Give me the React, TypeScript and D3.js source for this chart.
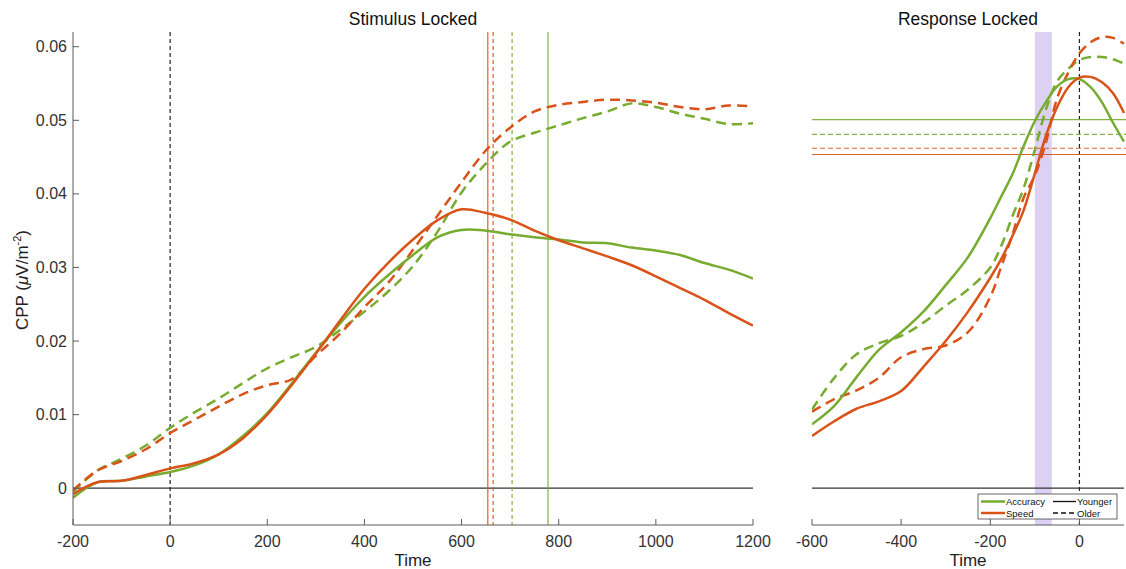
import React from "react";
import * as d3 from "d3";

// ---------- DATA ----------
const stimTime = [-200,-150,-100,-50,0,50,100,150,200,250,300,350,400,450,500,550,600,650,700,750,800,850,900,950,1000,1050,1100,1150,1200];
const stimYoungAcc = [-0.0013,0.0008,0.0010,0.0016,0.0022,0.0031,0.0046,0.0071,0.0102,0.0142,0.0184,0.0224,0.0260,0.0290,0.0317,0.0341,0.0351,0.0350,0.0345,0.0341,0.0338,0.0334,0.0333,0.0327,0.0323,0.0317,0.0306,0.0297,0.0285];
const stimYoungSpd = [-0.0008,0.0008,0.0010,0.0018,0.0027,0.0034,0.0046,0.0068,0.0100,0.0140,0.0183,0.0228,0.0271,0.0307,0.0338,0.0364,0.0379,0.0374,0.0365,0.0350,0.0337,0.0326,0.0315,0.0303,0.0288,0.0272,0.0256,0.0238,0.0221];
const stimOldAcc = [-0.0005,0.0024,0.0040,0.0058,0.0082,0.0103,0.0122,0.0143,0.0163,0.0178,0.0192,0.0215,0.0240,0.0268,0.0302,0.0348,0.0402,0.0441,0.0471,0.0483,0.0493,0.0503,0.0512,0.0523,0.0518,0.0509,0.0502,0.0495,0.0496];
const stimOldSpd = [-0.0003,0.0024,0.0037,0.0053,0.0075,0.0093,0.0111,0.0128,0.0140,0.0148,0.0180,0.0210,0.0246,0.0280,0.0324,0.0370,0.0416,0.0459,0.0490,0.0512,0.0521,0.0525,0.0528,0.0527,0.0524,0.0518,0.0515,0.0520,0.0519];

const respTime = [-600,-550,-500,-450,-400,-350,-300,-250,-200,-175,-150,-125,-100,-75,-50,-25,0,25,50,75,100];
const respYoungAcc = [0.0087,0.0112,0.0151,0.0188,0.0212,0.0240,0.0276,0.0314,0.0367,0.0397,0.0427,0.0465,0.0499,0.0525,0.0546,0.0556,0.0556,0.0545,0.0525,0.0497,0.0471];
const respYoungSpd = [0.0071,0.0091,0.0108,0.0118,0.0132,0.0165,0.0200,0.0240,0.0286,0.0312,0.0343,0.0378,0.0428,0.0479,0.0518,0.0545,0.0558,0.0559,0.0552,0.0537,0.0510];
const respOldAcc = [0.0107,0.0150,0.0182,0.0197,0.0207,0.0225,0.0248,0.0270,0.0300,0.0330,0.0370,0.0408,0.0460,0.0515,0.0553,0.0570,0.0582,0.0586,0.0586,0.0583,0.0577];
const respOldSpd = [0.0104,0.0121,0.0133,0.0150,0.0178,0.0189,0.0194,0.0212,0.0260,0.0302,0.0345,0.0395,0.0425,0.0470,0.0530,0.0565,0.0591,0.0606,0.0613,0.0612,0.0604];

// RT markers (stimulus locked, vertical) and thresholds (response locked, horizontal)
const rtMarkers = [
  { key: "YS", value: 654 },
  { key: "OS", value: 665 },
  { key: "OA", value: 704 },
  { key: "YA", value: 778 },
];
const thresholds = [
  { key: "YA", value: 0.0501 },
  { key: "OA", value: 0.0481 },
  { key: "OS", value: 0.0462 },
  { key: "YS", value: 0.04535 },
];
const shadeWindow = [-100, -62];

const stimTicks = [-200, 0, 200, 400, 600, 800, 1000, 1200];
const respTicks = [-600, -400, -200, 0];
const yTicks = [0, 0.01, 0.02, 0.03, 0.04, 0.05, 0.06];
const yTickLabels = ["0", "0.01", "0.02", "0.03", "0.04", "0.05", "0.06"];

// ---------- STYLE ----------
const GREEN = "#77AC30";
const ORANGE = "#D95319";
const seriesStyle: Record<string, { color: string; dashed: boolean }> = {
  YA: { color: GREEN, dashed: false },
  YS: { color: ORANGE, dashed: false },
  OA: { color: GREEN, dashed: true },
  OS: { color: ORANGE, dashed: true },
};
const FONT = "'Liberation Sans', Arial, Helvetica, sans-serif";
const AXIS = "#5a5a5a";
const TEXT = "#333";

const W = 1126, H = 569;
const TOP = 32, BOTTOM = 525;

export default function App() {
  const y = d3.scaleLinear().domain([-0.005, 0.062]).range([BOTTOM, TOP]);
  const xL = d3.scaleLinear().domain([-200, 1200]).range([73, 753]);
  const xR = d3.scaleLinear().domain([-600, 100]).range([812, 1124]);

  const mkLine = (x: d3.ScaleLinear<number, number>, t: number[]) =>
    d3.line<number>().x((_, i) => x(t[i])).y((v) => y(v)).curve(d3.curveCatmullRom.alpha(0.5));

  const lineL = mkLine(xL, stimTime);
  const lineR = mkLine(xR, respTime);

  const stimSeries = [
    { key: "OA", values: stimOldAcc },
    { key: "OS", values: stimOldSpd },
    { key: "YA", values: stimYoungAcc },
    { key: "YS", values: stimYoungSpd },
  ];
  const respSeries = [
    { key: "OA", values: respOldAcc },
    { key: "OS", values: respOldSpd },
    { key: "YA", values: respYoungAcc },
    { key: "YS", values: respYoungSpd },
  ];

  return (
    <svg width={W} height={H} style={{ position: "absolute", left: 0, top: 0, background: "#fff" }} fontFamily={FONT}>
      <defs>
        <clipPath id="clipL"><rect x={73} y={TOP} width={680} height={BOTTOM - TOP} /></clipPath>
        <clipPath id="clipR"><rect x={812} y={TOP} width={314} height={BOTTOM - TOP} /></clipPath>
      </defs>

      {/* ---------- LEFT PANEL ---------- */}
      <text x={(73 + 753) / 2} y={25} textAnchor="middle" fontSize={17.5} fill="#111">Stimulus Locked</text>
      {/* zero line */}
      <line x1={xL(-200)} x2={xL(1200)} y1={y(0)} y2={y(0)} stroke="#333" strokeWidth={1.3} />
      {/* stimulus onset */}
      <line x1={xL(0)} x2={xL(0)} y1={TOP} y2={BOTTOM} stroke="#222" strokeWidth={1.2} strokeDasharray="4,3" />
      {/* RT markers */}
      {rtMarkers.map((m) => (
        <line key={m.key} x1={xL(m.value)} x2={xL(m.value)} y1={TOP} y2={BOTTOM}
          stroke={seriesStyle[m.key].color} strokeWidth={1.2} opacity={0.9}
          strokeDasharray={seriesStyle[m.key].dashed ? "4,3" : undefined} />
      ))}
      <g clipPath="url(#clipL)">
        {stimSeries.map((s) => (
          <path key={s.key} d={lineL(s.values) || ""} fill="none" stroke={seriesStyle[s.key].color}
            strokeWidth={2.5} strokeDasharray={seriesStyle[s.key].dashed ? "10,6" : undefined} />
        ))}
      </g>
      {/* axes */}
      <line x1={73} x2={73} y1={TOP} y2={BOTTOM} stroke={AXIS} strokeWidth={1} />
      <line x1={73} x2={753} y1={BOTTOM} y2={BOTTOM} stroke={AXIS} strokeWidth={1} />
      {yTicks.map((t, i) => (
        <g key={t}>
          <line x1={73} x2={79} y1={y(t)} y2={y(t)} stroke={AXIS} />
          <text x={67} y={y(t) + 5.5} textAnchor="end" fontSize={16} fill={TEXT}>{yTickLabels[i]}</text>
        </g>
      ))}
      {stimTicks.map((t) => (
        <g key={t}>
          <line x1={xL(t)} x2={xL(t)} y1={BOTTOM} y2={BOTTOM - 6} stroke={AXIS} />
          <text x={xL(t)} y={547} textAnchor="middle" fontSize={16} fill={TEXT}>{t}</text>
        </g>
      ))}
      <text x={413} y={566} textAnchor="middle" fontSize={17} fill="#222">Time</text>
      <text transform={`translate(28,280) rotate(-90)`} textAnchor="middle" fontSize={17} fill="#222">
        CPP (<tspan fontStyle="italic">μ</tspan>V/m<tspan dy={-7} fontSize={11}>-2</tspan><tspan dy={7}>)</tspan>
      </text>

      {/* ---------- RIGHT PANEL ---------- */}
      <text x={(812 + 1124) / 2} y={25} textAnchor="middle" fontSize={17.5} fill="#111">Response Locked</text>
      <rect x={xR(shadeWindow[0])} y={TOP} width={xR(shadeWindow[1]) - xR(shadeWindow[0])} height={BOTTOM - TOP} fill="#dcd0f3" />
      <line x1={xR(-600)} x2={xR(100)} y1={y(0)} y2={y(0)} stroke="#333" strokeWidth={1.3} />
      <line x1={xR(0)} x2={xR(0)} y1={TOP} y2={BOTTOM} stroke="#222" strokeWidth={1.2} strokeDasharray="4,3" />
      {thresholds.map((m) => (
        <line key={m.key} x1={xR(-600)} x2={W} y1={y(m.value)} y2={y(m.value)}
          stroke={seriesStyle[m.key].color} strokeWidth={1.2} opacity={0.9}
          strokeDasharray={seriesStyle[m.key].dashed ? "5,3" : undefined} />
      ))}
      <g clipPath="url(#clipR)">
        {respSeries.map((s) => (
          <path key={s.key} d={lineR(s.values) || ""} fill="none" stroke={seriesStyle[s.key].color}
            strokeWidth={2.5} strokeDasharray={seriesStyle[s.key].dashed ? "10,6" : undefined} />
        ))}
      </g>
      <line x1={812} x2={1124} y1={BOTTOM} y2={BOTTOM} stroke={AXIS} strokeWidth={1} />
      {respTicks.map((t) => (
        <g key={t}>
          <line x1={xR(t)} x2={xR(t)} y1={BOTTOM} y2={BOTTOM - 6} stroke={AXIS} />
          <text x={xR(t)} y={547} textAnchor="middle" fontSize={16} fill={TEXT}>{t}</text>
        </g>
      ))}
      <text x={968} y={566} textAnchor="middle" fontSize={17} fill="#222">Time</text>

      {/* ---------- LEGEND ---------- */}
      <g fontSize={9.5} fill="#111">
        <rect x={978} y={494} width={139} height={25} fill="#fff" stroke="#444" strokeWidth={0.8} />
        <line x1={981} x2={1005} y1={501.5} y2={501.5} stroke={GREEN} strokeWidth={2.5} />
        <text x={1006} y={505}>Accuracy</text>
        <line x1={981} x2={1005} y1={513} y2={513} stroke={ORANGE} strokeWidth={2.5} />
        <text x={1006} y={516.5}>Speed</text>
        <line x1={1053} x2={1076} y1={501.5} y2={501.5} stroke="#111" strokeWidth={1.3} />
        <text x={1077} y={505}>Younger</text>
        <line x1={1053} x2={1076} y1={513} y2={513} stroke="#111" strokeWidth={1.3} strokeDasharray="5,3" />
        <text x={1077} y={516.5}>Older</text>
      </g>
    </svg>
  );
}
